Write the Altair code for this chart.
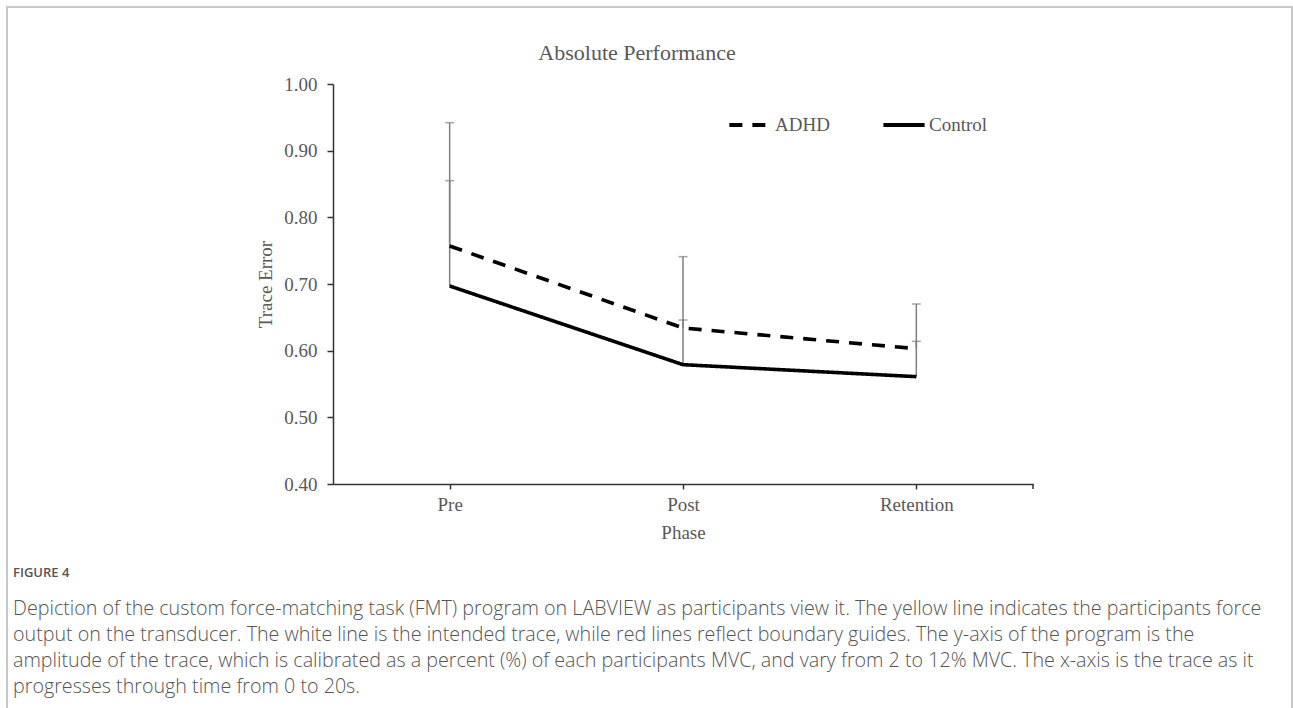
import altair as alt
import pandas as pd

phases = ["Pre", "Post", "Retention"]
groups = ["ADHD", "Control"]
adhd_mean = [0.757, 0.634, 0.603]
adhd_upper = [0.942, 0.741, 0.670]
control_mean = [0.697, 0.579, 0.561]
control_upper = [0.855, 0.646, 0.614]
y_ticks = [0.40, 0.50, 0.60, 0.70, 0.80, 0.90, 1.00]
chart_title = "Absolute Performance"
x_title = "Phase"
y_title = "Trace Error"
figure_label = "FIGURE 4"
caption_lines = [
    "Depiction of the custom force-matching task (FMT) program on LABVIEW as participants view it. The yellow line indicates the participants force",
    "output on the transducer. The white line is the intended trace, while red lines reflect boundary guides. The y-axis of the program is the",
    "amplitude of the trace, which is calibrated as a percent (%) of each participants MVC, and vary from 2 to 12% MVC. The x-axis is the trace as it",
    "progresses through time from 0 to 20s.",
]

rows = []
for i, p in enumerate(phases):
    rows.append({"phase": p, "group": "ADHD", "mean": adhd_mean[i], "upper": adhd_upper[i]})
    rows.append({"phase": p, "group": "Control", "mean": control_mean[i], "upper": control_upper[i]})
df = pd.DataFrame(rows)
one = pd.DataFrame({"k": [0]})

W, H = 700, 400
SERIF = "Liberation Serif"
GRAY_TXT = "#595959"
FS = 19

x_enc = alt.X("phase:N", sort=phases, scale=alt.Scale(type="point", padding=0.5),
              axis=alt.Axis(title=x_title, labelAngle=0, tickSize=5, labelPadding=6,
                            titlePadding=9))
y_enc = alt.Y("mean:Q", scale=alt.Scale(domain=[0.4, 1.0], nice=False, zero=False),
              axis=alt.Axis(title=y_title, values=y_ticks, format=".2f", tickSize=6,
                            labelPadding=10, titlePadding=8, grid=False))

base = alt.Chart(df)

err_rule = base.mark_rule(color="#7f7f7f", strokeWidth=1.5).encode(
    x=x_enc, y=y_enc, y2="upper:Q")
err_cap = base.mark_tick(color="#7f7f7f", thickness=1.5, size=9, orient="horizontal").encode(
    x=x_enc, y=alt.Y("upper:Q"))

lines = base.mark_line(color="black", strokeWidth=3.6, strokeCap="butt").encode(
    x=x_enc, y=y_enc,
    strokeDash=alt.StrokeDash("group:N", sort=groups,
                              scale=alt.Scale(domain=groups, range=[[13, 10], [1, 0]]),
                              legend=alt.Legend(title=None, orient="none", legendX=394, legendY=18,
                                                direction="horizontal", symbolType="stroke",
                                                symbolSize=1700, symbolStrokeWidth=4,
                                                symbolStrokeColor="black", labelFont=SERIF,
                                                labelFontSize=FS, labelColor=GRAY_TXT,
                                                labelOffset=2, columnPadding=45, padding=0)))

end_tick = alt.Chart(one).mark_rule(color="#333333", strokeWidth=1.5).encode(
    x=alt.value(W), y=alt.value(H), y2=alt.value(H + 5))

frame = alt.Chart(one).mark_rect(fill="transparent", stroke="#c8c8c8", strokeWidth=2).encode(
    x=alt.value(-326), x2=alt.value(1292 - 333), y=alt.value(-77), y2=alt.value(720))

title_txt = alt.Chart(one).mark_text(align="center", baseline="middle", font=SERIF,
                                     fontSize=22, fontWeight="normal", color=GRAY_TXT,
                                     text=chart_title).encode(
    x=alt.value(637 - 333), y=alt.value(53 - 84))

fig_lbl = alt.Chart(one).mark_text(align="left", baseline="middle", font="Open Sans",
                                   fontSize=13, fontWeight=600, color="#555555",
                                   text=figure_label).encode(
    x=alt.value(13 - 333), y=alt.value(573 - 84))

caption = alt.Chart(one).mark_text(align="left", baseline="middle", font="Open Sans",
                                   fontSize=19.7, fontWeight=300, color="#555555", lineHeight=26,
                                   text=caption_lines).encode(
    x=alt.value(13 - 333), y=alt.value(609 - 84))

chart = alt.layer(frame, err_rule, err_cap, lines, end_tick, title_txt, fig_lbl, caption).properties(
    width=W, height=H,
    padding={"left": 333, "top": 84, "right": 1293 - 333 - W, "bottom": 708 - 84 - H},
    autosize=alt.AutoSizeParams(type="none"),
    background="white",
).configure_view(stroke=None).configure_axis(
    domainColor="#333333", domainWidth=1.5, tickColor="#333333", tickWidth=1.5,
    labelFont=SERIF, labelFontSize=FS, labelColor=GRAY_TXT,
    titleFont=SERIF, titleFontSize=FS, titleColor=GRAY_TXT, titleFontWeight="normal",
)

chart.save("out.html", embed_options={"renderer": "svg", "actions": False})
